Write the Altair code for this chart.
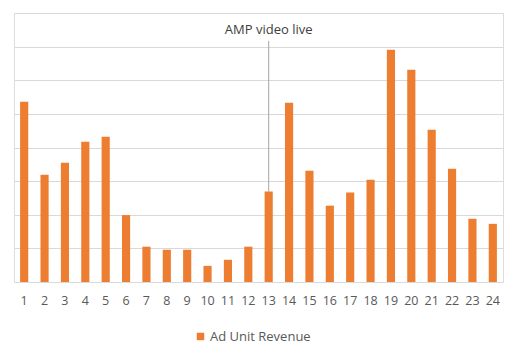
import altair as alt
import pandas as pd

hours = [str(i) for i in range(1, 25)]
revenue = [5.36, 3.19, 3.55, 4.17, 4.32, 1.99, 1.05, 0.96, 0.96, 0.48, 0.66, 1.05,
           2.69, 5.33, 3.31, 2.27, 2.66, 3.04, 6.91, 6.31, 4.53, 3.37, 1.88, 1.73]
series_name = "Ad Unit Revenue"
annotation_label = "AMP video live"
annotation_hour = "13"
annotation_top = 7.17
annotation_text_y = 7.48
grid_values = [0, 1, 2, 3, 4, 5, 6, 7, 8]

df = pd.DataFrame({"hour": hours, "value": revenue, "series": [series_name] * len(hours)})
ann_df = pd.DataFrame({
    "hour": [annotation_hour],
    "y": [annotation_top],
    "y2": [revenue[hours.index(annotation_hour)]],
    "ty": [annotation_text_y],
    "label": [annotation_label],
})

FONT = "Open Sans"
x_scale = alt.Scale(domain=hours, paddingInner=0.6, paddingOuter=0.3)
y_scale = alt.Scale(domain=[0, 8], nice=False)

x_axis = alt.Axis(title=None, labelAngle=0, ticks=False, domain=False,
                  labelFont=FONT, labelFontSize=12.5, labelColor="#595959",
                  labelPadding=12, grid=False)
y_axis = alt.Axis(title=None, labels=False, ticks=False, domain=False,
                  grid=True, gridColor="#d9d9d9", gridWidth=1,
                  values=grid_values)

bars = alt.Chart(df).mark_bar(color="#ED7D31").encode(
    x=alt.X("hour:N", scale=x_scale, sort=hours, axis=x_axis),
    y=alt.Y("value:Q", scale=y_scale, axis=y_axis),
    color=alt.Color("series:N", scale=alt.Scale(range=["#ED7D31"]),
                    legend=alt.Legend(title=None, orient="none", legendX=180, legendY=317,
                                      symbolType="square", symbolSize=56,
                                      labelFont=FONT, labelFontSize=13, labelOffset=3,
                                      labelColor="#595959", padding=0)),
)

rule = alt.Chart(ann_df).mark_rule(color="#a6a6a6", strokeWidth=1).encode(
    x=alt.X("hour:N", scale=x_scale, sort=hours, axis=x_axis),
    y=alt.Y("y:Q", scale=y_scale, axis=y_axis),
    y2="y2:Q",
)

text = alt.Chart(ann_df).mark_text(font=FONT, fontSize=13, color="#404040",
                                   baseline="middle", align="center").encode(
    x=alt.X("hour:N", scale=x_scale, sort=hours, axis=x_axis),
    y=alt.Y("ty:Q", scale=y_scale, axis=y_axis),
    text="label:N",
)

chart = alt.layer(bars, rule, text).properties(
    width=489, height=269,
    padding={"left": 6, "top": 5, "right": 1, "bottom": 65},
    autosize=alt.AutoSizeParams(type="none"),
).configure_view(stroke=None).configure(background="white")

chart.save("out.html", embed_options={"renderer": "svg", "actions": False})
